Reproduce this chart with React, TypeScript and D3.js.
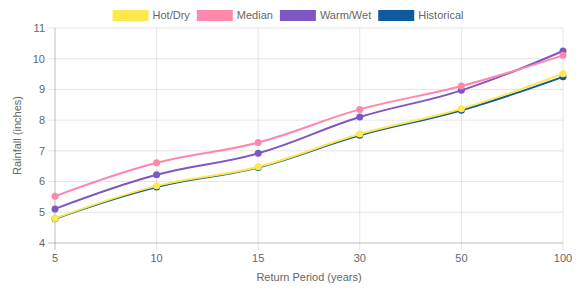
import React, { useEffect, useRef } from 'react';
import * as d3 from 'd3';

const periods = ['5', '10', '15', '30', '50', '100'];
const hotDry = [4.8, 5.86, 6.48, 7.55, 8.37, 9.51];
const median = [5.52, 6.61, 7.27, 8.35, 9.11, 10.11];
const warmWet = [5.11, 6.22, 6.92, 8.1, 8.97, 10.25];
const historical = [4.79, 5.82, 6.46, 7.51, 8.32, 9.41];
const yTicks = [4, 5, 6, 7, 8, 9, 10, 11];

const series = [
  { name: 'Hot/Dry', values: hotDry, color: '#ffe84d' },
  { name: 'Median', values: median, color: '#ff87ab' },
  { name: 'Warm/Wet', values: warmWet, color: '#7e57c2' },
  { name: 'Historical', values: historical, color: '#0f5a9c' },
];

const W = 579;
const H = 289;
const m = { top: 28, right: 16, bottom: 46, left: 55 };
const font = '"Liberation Sans", Arial, sans-serif';

function App() {
  const ref = useRef<SVGSVGElement | null>(null);

  useEffect(() => {
    const svg = d3.select(ref.current);
    svg.selectAll('*').remove();

    const x = d3.scalePoint<string>()
      .domain(periods)
      .range([m.left, W - m.right]);
    const y = d3.scaleLinear()
      .domain([4, 11])
      .range([H - m.bottom, m.top]);

    const [y0, y1] = y.range();
    const [x0, x1] = x.range();

    // grid
    const grid = svg.append('g');
    grid.selectAll('.vg')
      .data(periods)
      .join('line')
      .attr('x1', d => x(d)!).attr('x2', d => x(d)!)
      .attr('y1', y1).attr('y2', y0 + 7)
      .attr('stroke', (d, i) => i === 0 ? 'rgba(0,0,0,0.25)' : 'rgba(0,0,0,0.1)');
    grid.selectAll('.hg')
      .data(yTicks)
      .join('line')
      .attr('x1', x0 - 7).attr('x2', x1)
      .attr('y1', d => y(d)).attr('y2', d => y(d))
      .attr('stroke', (d, i) => i === 0 ? 'rgba(0,0,0,0.25)' : 'rgba(0,0,0,0.1)');

    // tick labels
    svg.append('g').selectAll('text')
      .data(yTicks)
      .join('text')
      .attr('x', x0 - 10)
      .attr('y', d => y(d))
      .attr('dy', '0.35em')
      .attr('text-anchor', 'end')
      .attr('font-family', font).attr('font-size', 11).attr('fill', '#666')
      .text(d => d);
    svg.append('g').selectAll('text')
      .data(periods)
      .join('text')
      .attr('x', d => x(d)!)
      .attr('y', y0 + 19)
      .attr('text-anchor', 'middle')
      .attr('font-family', font).attr('font-size', 11).attr('fill', '#666')
      .text(d => d);

    // axis titles
    svg.append('text')
      .attr('transform', `translate(21,${(y0 + y1) / 2}) rotate(-90)`)
      .attr('text-anchor', 'middle')
      .attr('font-family', font).attr('font-size', 11).attr('fill', '#666')
      .text('Rainfall (inches)');
    svg.append('text')
      .attr('x', (x0 + x1) / 2)
      .attr('y', y0 + 38)
      .attr('text-anchor', 'middle')
      .attr('font-family', font).attr('font-size', 11).attr('fill', '#666')
      .text('Return Period (years)');

    // lines, first dataset on top
    const line = d3.line<number>()
      .x((d, i) => x(periods[i])!)
      .y(d => y(d))
      .curve(d3.curveCardinal.tension(-0.2));

    const lines = svg.append('g');
    [...series].reverse().forEach(s => {
      const g = lines.append('g');
      g.append('path')
        .attr('d', line(s.values))
        .attr('fill', 'none')
        .attr('stroke', s.color)
        .attr('stroke-width', 2);
      g.selectAll('circle')
        .data(s.values)
        .join('circle')
        .attr('cx', (d, i) => x(periods[i])!)
        .attr('cy', d => y(d))
        .attr('r', 3.5)
        .attr('fill', s.color);
    });

    // legend, laid out from measured text widths and centred
    const boxW = 36;
    const gap = 7;
    const legend = svg.append('g');
    const items = series.map(s => {
      const g = legend.append('g');
      g.append('rect')
        .attr('width', boxW).attr('height', 11)
        .attr('fill', s.color);
      const t = g.append('text')
        .attr('x', boxW + 4).attr('y', 5.5).attr('dy', '0.35em')
        .attr('font-family', font).attr('font-size', 11).attr('fill', '#666')
        .text(s.name);
      const tw = (t.node() as SVGTextElement).getComputedTextLength();
      return { g, w: boxW + 4 + tw };
    });
    const total = d3.sum(items, d => d.w) + gap * (items.length - 1);
    let cx = 288 - total / 2;
    items.forEach(it => {
      it.g.attr('transform', `translate(${cx},10)`);
      cx += it.w + gap;
    });
  }, []);

  return <svg ref={ref} width={W} height={H} style={{ display: 'block', position: 'absolute', left: 0, top: 0 }} />;
}

export default App;
